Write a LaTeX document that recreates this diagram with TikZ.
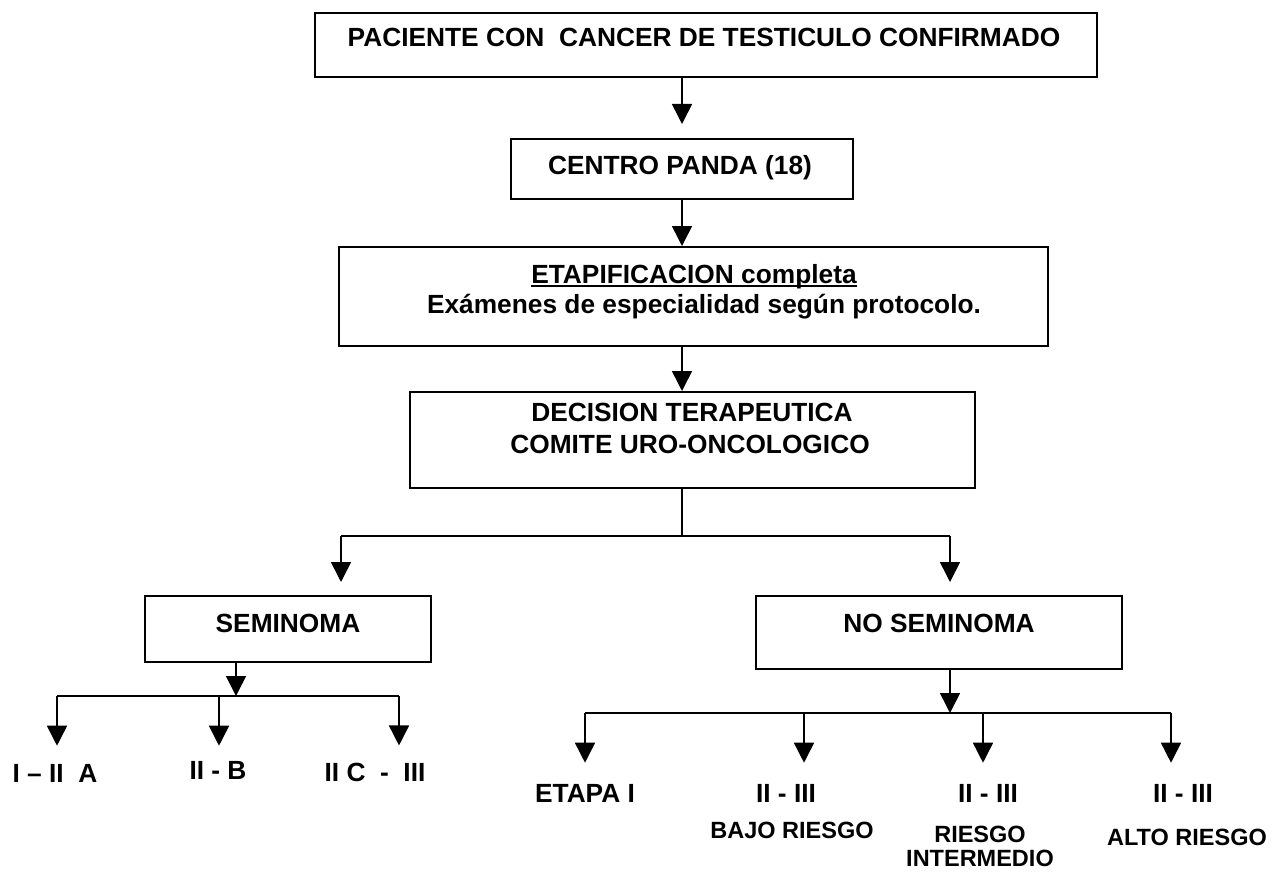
\documentclass[tikz,border=0pt]{standalone}
\usepackage{fontspec}
\setmainfont{Liberation Sans}
\usetikzlibrary{arrows.meta}

\tikzset{
    caja/.style={draw, line width=2pt, inner sep=0pt},
    linea/.style={line width=1.6pt},
    flecha/.style={line width=1.6pt, -{Triangle[length=20pt,width=20pt]}},
    texto/.style={font=\fontsize{26.3}{30}\selectfont\bfseries, inner sep=0pt, anchor=base},
    textochico/.style={texto, font=\fontsize{23.5}{28}\selectfont\bfseries}
}

\begin{document}
\begin{tikzpicture}[x=1pt, y=-1pt]
        \useasboundingbox (0,0) rectangle (1273,872);

        % Define las cajas del diagrama.
        \node[caja, minimum width=782pt, minimum height=64pt] (paciente) at (706,45) {};
        \node[caja, minimum width=342pt, minimum height=60pt] (centro) at (682,169) {};
        \node[caja, minimum width=709pt, minimum height=99pt] (etapa) at (693.5,296.5) {};
        \node[caja, minimum width=565pt, minimum height=96pt] (decision) at (692.5,440) {};
        \node[caja, minimum width=286pt, minimum height=66pt] (seminoma) at (288,629) {};
        \node[caja, minimum width=366pt, minimum height=73pt] (noseminoma) at (939,632.5) {};

        % Textos dentro de las cajas.
        \node[texto] (tpaciente) at (704,47) {PACIENTE CON\ \ CANCER DE TESTICULO CONFIRMADO};
        \node[texto] (tcentro) at (680,174) {CENTRO PANDA (18)};
        \node[texto] (tetapa) at (694,283) {ETAPIFICACION completa};
        \node[texto] (texamenes) at (704,313) {Exámenes de especialidad según protocolo.};
        \node[texto] (tdecision) at (692,421) {DECISION TERAPEUTICA};
        \node[texto] (tcomite) at (690,453) {COMITE URO-ONCOLOGICO};
        \node[texto] (tseminoma) at (288,632) {SEMINOMA};
        \node[texto] (tnoseminoma) at (939,632) {NO SEMINOMA};
        \draw[line width=1.8pt] ([yshift=-3pt]tetapa.base west) -- ([yshift=-3pt]tetapa.base east);

        % Etapas de cada rama.
        \node[texto] (s1) at (55,782) {I – II\ \ A};
        \node[texto] (s2) at (218,779) {II - B};
        \node[texto] (s3) at (375,781) {II C\ \ -\ \ III};
        \node[texto] (n1) at (585,802) {ETAPA I};
        \node[texto] (n2) at (786,802) {II - III};
        \node[textochico] (n2b) at (792,838) {BAJO RIESGO};
        \node[texto] (n3) at (988,802) {II - III};
        \node[textochico] (n3b) at (980,842) {RIESGO};
        \node[textochico] (n3c) at (980,866) {INTERMEDIO};
        \node[texto] (n4) at (1183,802) {II - III};
        \node[textochico] (n4b) at (1187,845) {ALTO RIESGO};

        % Puntos de bifurcacion.
        \coordinate (bif) at (682,536);
        \coordinate (rsem) at (341,536);
        \coordinate (rnosem) at (950,536);
        \coordinate (bsem) at (236,696);
        \coordinate (bs1) at (57,696);
        \coordinate (bs2) at (219,696);
        \coordinate (bs3) at (399,696);
        \coordinate (bnos) at (950,713);
        \coordinate (bn1) at (585,713);
        \coordinate (bn2) at (804,713);
        \coordinate (bn3) at (983,713);
        \coordinate (bn4) at (1171,713);

        % Flechas del tronco principal.
        \draw[flecha, shorten >=14pt] (paciente.south -| centro) -- (centro.north);
        \draw[flecha] (centro.south) -- (etapa.north -| centro);
        \draw[flecha] (etapa.south -| centro) -- (decision.north -| centro);
        \draw[linea] (decision.south -| bif) -- (bif) (rsem) -- (rnosem);
        \draw[flecha, shorten >=13pt] (rsem) -- (rsem |- seminoma.north);
        \draw[flecha, shorten >=13pt] (rnosem) -- (rnosem |- noseminoma.north);

        % Rama seminoma.
        \draw[flecha] (seminoma.south -| bsem) -- (bsem);
        \draw[linea] (bs1) -- (bs3);
        \draw[flecha, shorten >=18pt] (bs1) -- (bs1 |- s1.north);
        \draw[flecha, shorten >=15pt] (bs2) -- (bs2 |- s2.north);
        \draw[flecha, shorten >=17pt] (bs3) -- (bs3 |- s3.north);

        % Rama no seminoma.
        \draw[flecha] (noseminoma.south -| bnos) -- (bnos);
        \draw[linea] (bn1) -- (bn4);
        \draw[flecha, shorten >=21pt] (bn1) -- (bn1 |- n1.north);
        \draw[flecha, shorten >=21pt] (bn2) -- (bn2 |- n2.north);
        \draw[flecha, shorten >=21pt] (bn3) -- (bn3 |- n3.north);
        \draw[flecha, shorten >=21pt] (bn4) -- (bn4 |- n4.north);
\end{tikzpicture}
\end{document}
